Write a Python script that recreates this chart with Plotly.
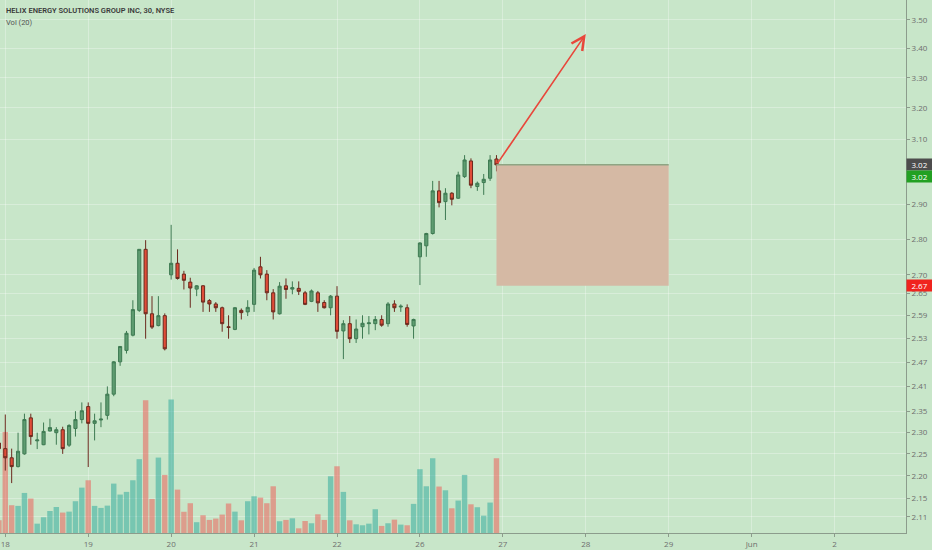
import math

import plotly.graph_objects as go

# 30-min bars, index 0 = first bar of May 18 (13 bars per session)
bar_idx = list(range(-1, 78))

opens = [2.275,
         2.262, 2.241, 2.221, 2.250, 2.334, 2.280, 2.271, 2.303, 2.299, 2.306, 2.270, 2.309, 2.330,
         2.361, 2.321, 2.329, 2.340, 2.391, 2.471, 2.500, 2.539, 2.604, 2.771, 2.595, 2.564, 2.590,
         2.700, 2.732, 2.702, 2.680, 2.661, 2.670, 2.630, 2.621, 2.611, 2.561, 2.554, 2.604, 2.600,
         2.620, 2.722, 2.702, 2.651, 2.595, 2.670, 2.661, 2.663, 2.651, 2.628, 2.651, 2.625, 2.611,
         2.642, 2.550, 2.569, 2.530, 2.561, 2.569, 2.569, 2.580, 2.569, 2.621, 2.613, 2.611, 2.563,
         2.750, 2.781, 2.816, 2.941, 2.909, 2.934, 2.919, 2.984, 3.032, 2.954, 2.966, 2.979, 3.038]
highs = [2.290,
         2.342, 2.262, 2.299, 2.344, 2.344, 2.299, 2.323, 2.332, 2.312, 2.313, 2.319, 2.350, 2.371,
         2.371, 2.344, 2.371, 2.410, 2.473, 2.510, 2.550, 2.631, 2.771, 2.797, 2.642, 2.642, 2.596,
         2.841, 2.771, 2.711, 2.692, 2.672, 2.672, 2.634, 2.626, 2.614, 2.591, 2.613, 2.609, 2.631,
         2.719, 2.750, 2.713, 2.661, 2.680, 2.690, 2.682, 2.682, 2.656, 2.660, 2.656, 2.631, 2.645,
         2.669, 2.578, 2.589, 2.580, 2.591, 2.589, 2.589, 2.591, 2.626, 2.631, 2.620, 2.620, 2.582,
         2.791, 2.818, 2.971, 2.971, 2.949, 2.937, 2.999, 3.050, 3.040, 2.969, 2.992, 3.050, 3.050]
lows = [2.250,
        2.212, 2.184, 2.219, 2.248, 2.271, 2.261, 2.270, 2.302, 2.271, 2.250, 2.266, 2.290, 2.321,
        2.220, 2.281, 2.312, 2.330, 2.386, 2.461, 2.492, 2.536, 2.600, 2.530, 2.555, 2.562, 2.500,
        2.687, 2.687, 2.660, 2.611, 2.642, 2.600, 2.600, 2.600, 2.548, 2.530, 2.552, 2.580, 2.589,
        2.600, 2.690, 2.631, 2.580, 2.593, 2.635, 2.647, 2.645, 2.618, 2.626, 2.600, 2.609, 2.591,
        2.530, 2.478, 2.519, 2.519, 2.530, 2.541, 2.552, 2.561, 2.561, 2.600, 2.600, 2.561, 2.530,
        2.672, 2.750, 2.813, 2.892, 2.855, 2.898, 2.917, 2.980, 2.949, 2.941, 2.929, 2.971, 3.000]
closes = [2.262,
          2.241, 2.221, 2.256, 2.330, 2.290, 2.282, 2.302, 2.311, 2.306, 2.262, 2.316, 2.330, 2.351,
          2.321, 2.327, 2.331, 2.391, 2.471, 2.510, 2.544, 2.606, 2.771, 2.595, 2.560, 2.590, 2.504,
          2.732, 2.690, 2.685, 2.664, 2.670, 2.626, 2.621, 2.611, 2.569, 2.559, 2.611, 2.598, 2.612,
          2.713, 2.700, 2.651, 2.600, 2.669, 2.660, 2.665, 2.655, 2.620, 2.656, 2.624, 2.611, 2.642,
          2.549, 2.569, 2.530, 2.555, 2.570, 2.571, 2.580, 2.565, 2.621, 2.611, 2.615, 2.567, 2.580,
          2.789, 2.816, 2.941, 2.906, 2.934, 2.916, 2.989, 3.035, 2.958, 2.964, 2.976, 3.035, 3.020]
# volume, thousands of shares
volumes = [95,
           757, 208, 203, 300, 258, 70, 118, 165, 195, 153, 160, 238, 340,
           395, 203, 188, 205, 370, 288, 308, 395, 553, 995, 255, 565, 435,
           1000, 325, 159, 223, 81, 133, 98, 108, 138, 221, 160, 95, 238,
           275, 265, 223, 350, 88, 98, 110, 35, 90, 73, 140, 98, 425,
           500, 308, 95, 65, 58, 70, 178, 53, 73, 100, 63, 58, 218,
           478, 350, 560, 348, 320, 185, 243, 435, 215, 193, 130, 228, 560]

day_ticks = [0, 13, 26, 39, 52, 65, 78, 91, 104, 117, 130]
day_labels = ['18', '19', '20', '21', '22', '26', '27', '28', '29', 'Jun', '2']

price_ticks = [2.11, 2.15, 2.20, 2.25, 2.30, 2.35, 2.41, 2.47, 2.53, 2.59, 2.65,
               2.70, 2.80, 2.90, 3.10, 3.20, 3.30, 3.40, 3.50]

# long-position drawing: entry/target box and projection arrow
box_x = [77, 104]
box_prices = [2.67, 3.02]
arrow_x = [77, 91]
arrow_prices = [3.02, 3.45]

BG = '#c8e6c9'
AXIS = '#8c9c8c'
TXT = '#6e6e6e'

vol_colors = ['rgba(38,166,154,0.5)' if c >= o else 'rgba(239,83,80,0.5)'
              for o, c in zip(opens, closes)]

fig = go.Figure()

fig.add_trace(go.Bar(
    x=bar_idx, y=volumes, yaxis='y',
    marker=dict(color=vol_colors, line=dict(width=0)),
    hoverinfo='skip', showlegend=False,
))

# box drawn as a filled trace so it sits under the candles
fig.add_trace(go.Scatter(
    x=[box_x[0], box_x[1], box_x[1], box_x[0], box_x[0]],
    y=[box_prices[1], box_prices[1], box_prices[0], box_prices[0], box_prices[1]],
    yaxis='y2', mode='lines', fill='toself', fillcolor='rgb(213,185,164)',
    line=dict(width=0), hoverinfo='skip', showlegend=False,
))
fig.add_trace(go.Scatter(
    x=box_x, y=[box_prices[1], box_prices[1]], yaxis='y2', mode='lines',
    line=dict(color='#8ea583', width=1.5), hoverinfo='skip', showlegend=False,
))

fig.add_trace(go.Candlestick(
    x=bar_idx, open=opens, high=highs, low=lows, close=closes, yaxis='y2',
    increasing=dict(line=dict(color='#3e7a52', width=1), fillcolor='#5e9c70'),
    decreasing=dict(line=dict(color='#6b2a1e', width=1), fillcolor='#e04c38'),
    whiskerwidth=0, showlegend=False,
))

fig.add_annotation(
    x=arrow_x[1], y=math.log10(arrow_prices[1]), xref='x', yref='y2',
    ax=arrow_x[0], ay=math.log10(arrow_prices[0]), axref='x', ayref='y2',
    text='', showarrow=True, arrowhead=5, arrowsize=1.6, arrowwidth=1.6,
    arrowcolor='#e8473b',
)

# price labels on the right scale
for price, bg, shift in [(3.02, '#4d4d4d', 0), (3.02, '#22a022', -12), (2.67, '#f0241e', 0)]:
    fig.add_annotation(
        x=1, xref='paper', xanchor='left', y=math.log10(price), yref='y2',
        yshift=shift, text=f'{price:.2f}', showarrow=False,
        bgcolor=bg, font=dict(color='white', size=8, family='Open Sans'),
        width=25, height=11, borderpad=0,
    )

fig.add_annotation(
    x=0, y=1, xref='paper', yref='paper', xanchor='left', yanchor='top',
    xshift=4, yshift=-4, showarrow=False,
    text='HELIX ENERGY SOLUTIONS GROUP INC, 30, NYSE',
    font=dict(size=7.5, color='#3a3a3a', family='Roboto', weight=600),
)
fig.add_annotation(
    x=0, y=1, xref='paper', yref='paper', xanchor='left', yanchor='top',
    xshift=4, yshift=-16, showarrow=False, text='Vol (20)',
    font=dict(size=7.5, color='#555555', family='Roboto'),
)

fig.update_layout(
    width=932, height=550,
    margin=dict(l=0, r=26, t=0, b=17),
    plot_bgcolor=BG, paper_bgcolor=BG,
    bargap=0.15,
    font=dict(family='Open Sans', size=8, color=TXT),
    xaxis=dict(
        range=[-0.83, 141.2], rangeslider=dict(visible=False),
        tickvals=day_ticks, ticktext=day_labels,
        ticks='outside', ticklen=3, tickcolor=AXIS,
        showline=True, linecolor=AXIS, linewidth=1,
        showgrid=True, gridcolor='rgba(255,255,255,0.3)', zeroline=False,
        tickfont=dict(size=8, color=TXT), automargin=False,
    ),
    yaxis=dict(range=[0, 3993], visible=False, fixedrange=True),
    yaxis2=dict(
        type='log', range=[0.31718, 0.55291], overlaying='y', side='right',
        tickvals=price_ticks, tickformat='.2f',
        ticks='outside', ticklen=3, tickcolor=AXIS,
        showline=True, linecolor=AXIS, linewidth=1,
        showgrid=True, gridcolor='rgba(255,255,255,0.3)', zeroline=False,
        tickfont=dict(size=8, color=TXT), automargin=False,
    ),
)

# page default body margin would push the 932x550 chart out of the window
fig.write_html('out.html',
               config={'displayModeBar': False},
               post_script="document.body.style.margin='0';"
                           "document.body.style.overflow='hidden';")
